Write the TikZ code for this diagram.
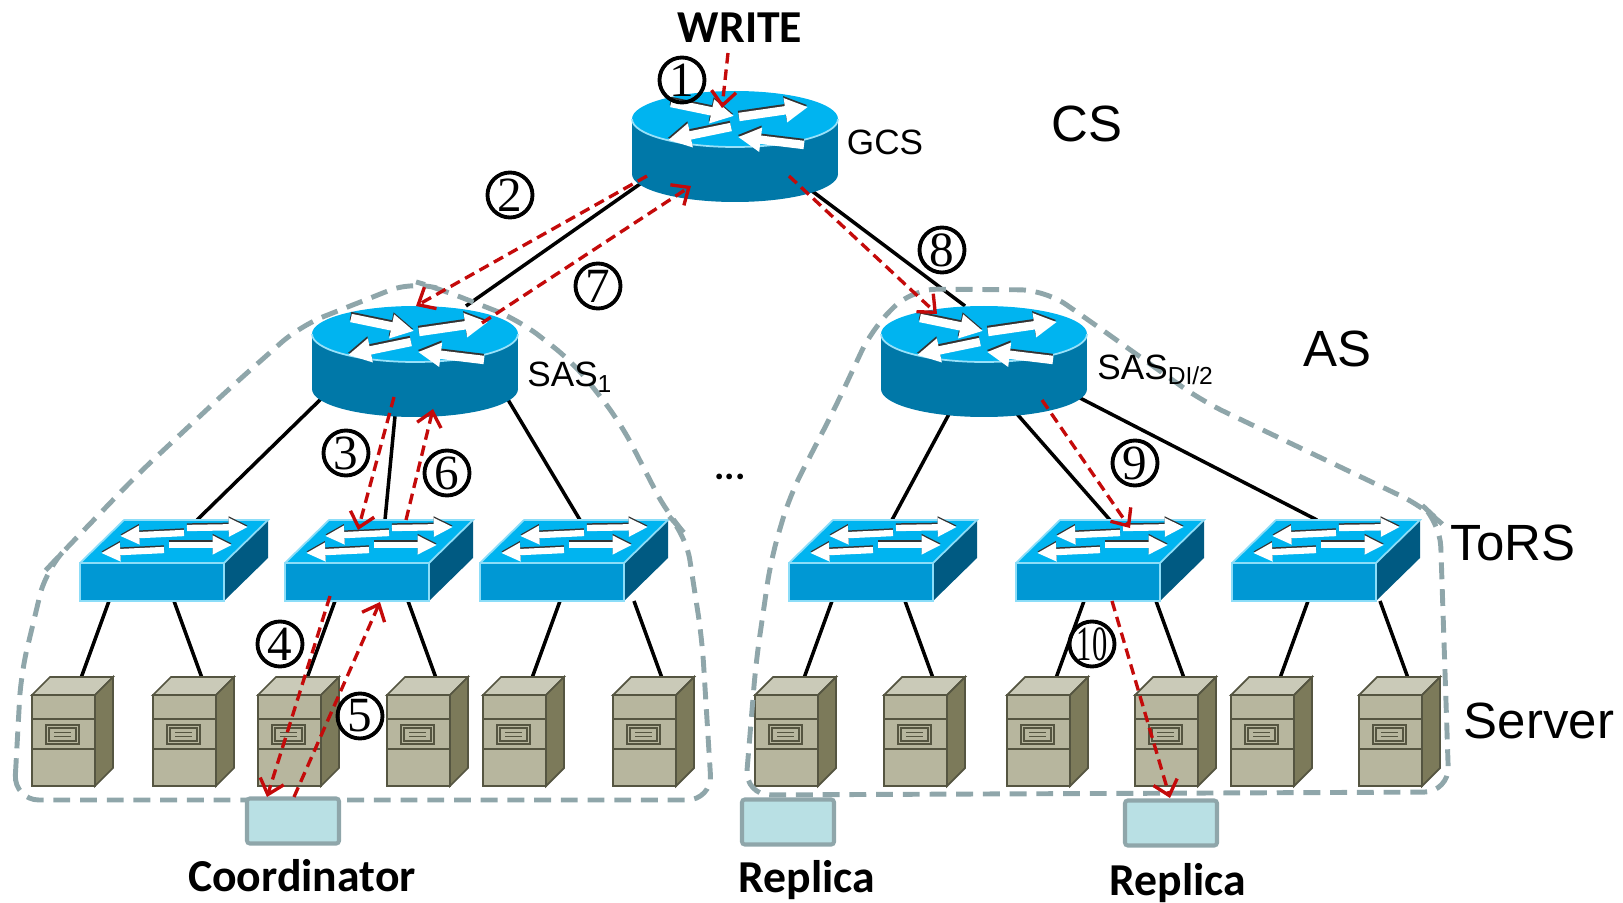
\documentclass[tikz,border=0pt]{standalone}
\usepackage{fontspec}
\usepackage{tikz}
\usetikzlibrary{arrows.meta, calc, positioning, backgrounds}

\newfontfamily\arialfont{Liberation Sans}
\newfontfamily\calfont{Carlito}
\newfontfamily\numfont{Liberation Serif}

\definecolor{routertop}{RGB}{0,180,240}
\definecolor{routerside}{RGB}{0,120,168}
\definecolor{torsfront}{RGB}{0,152,212}
\definecolor{torsside}{RGB}{0,90,130}
\definecolor{srvfront}{RGB}{183,182,158}
\definecolor{srvtop}{RGB}{202,202,184}
\definecolor{srvside}{RGB}{124,122,90}
\definecolor{srvedge}{RGB}{85,85,65}
\definecolor{zonegray}{RGB}{143,166,170}
\definecolor{boxfill}{RGB}{185,224,228}
\definecolor{flowred}{RGB}{196,10,10}

% router cylinder: #1 name, #2 centre of the top face
\newcommand{\router}[2]{%
  \begin{scope}[shift={#2}]
    \fill[routerside] (0,55) ellipse[x radius=103, y radius=28];
    \fill[routerside] (-103,0) rectangle (103,55);
    \fill[routertop] (0,0) ellipse[x radius=103, y radius=28];
    \draw[white!60!routertop, line width=0.5pt] (-103,0) arc[start angle=180, end angle=0, x radius=103, y radius=28];
    \foreach \tx/\ty/\hx/\hy in {-64/-16/-1/-3, 4/-2/73/-12, -4/8/-67/21, 69/26/3/18}{
      \draw[rarrow, black!80] (\tx-0.5,\ty-2) -- (\hx-0.5,\hy-2);
      \draw[rarrow, white] (\tx,\ty) -- (\hx,\hy);
    }
  \end{scope}
  \node[hull, minimum width=20.6mm, minimum height=11.1mm] (#1) at ($#2+(0,27.5)$) {};
}

% top-of-rack switch: #1 name, #2 top left corner of the front face
\newcommand{\torswitch}[2]{%
  \begin{scope}[shift={#2}]
    \fill[torsfront] (0,0) rectangle (144,38);
    \fill[routertop] (0,0) -- (44,-43) -- (188,-43) -- (144,0) -- cycle;
    \fill[torsside] (144,0) -- (188,-43) -- (188,-5) -- (144,38) -- cycle;
    \draw[white!55!routertop, line width=0.5pt] (0,38) -- (0,0) -- (144,0) -- (144,38) -- cycle
      (0,0) -- (44,-43) -- (188,-43) -- (144,0);
    \foreach \tx/\ty/\hx/\hy in {104/-30/40/-27, 107/-35/168/-36, 84/-13/21/-10, 89/-18/152/-18}{
      \draw[sarrow, black!80] (\tx,\ty-1.5) -- (\hx,\hy-1.5);
      \draw[sarrow, white] (\tx,\ty) -- (\hx,\hy);
    }
  \end{scope}
  \node[hull, minimum width=14.4mm, minimum height=3.8mm] (#1) at ($#2+(72,19)$) {};
}

% server tower: #1 name, #2 top left corner of the front face
\newcommand{\serverrack}[2]{%
  \begin{scope}[shift={#2}, draw=srvedge, line width=0.5pt]
    \filldraw[fill=srvfront] (0,0) rectangle (63,91);
    \filldraw[fill=srvtop] (0,0) -- (18,-18) -- (81,-18) -- (63,0) -- cycle;
    \filldraw[fill=srvside] (63,0) -- (81,-18) -- (81,73) -- (63,91) -- cycle;
    \draw (0,24) -- (63,24) (0,54) -- (63,54);
    \draw (14,30) rectangle (47,49) (17,33) rectangle (44,46);
    \draw (22,37.5) -- (39,37.5) (22,41.5) -- (39,41.5);
  \end{scope}
  \node[hull, minimum width=6.3mm, minimum height=9.1mm] (#1) at ($#2+(31.5,45.5)$) {};
  \coordinate (#1-top) at ($#2+(49,-17)$);
}

\begin{document}
\begin{tikzpicture}[
    x=0.1mm, y=-0.1mm,
    hull/.style={inner sep=0pt, outer sep=0pt},
    rarrow/.style={line width=2.4pt, -{Triangle[length=6.5pt, width=6.5pt]}},
    sarrow/.style={line width=1.8pt, -{Triangle[length=5.5pt, width=5pt]}},
    link/.style={line width=1pt, black},
    flow/.style={draw=flowred, line width=0.95pt, dash pattern=on 3pt off 1.7pt, -{Straight Barb[length=4pt, width=7pt]}},
    zone/.style={draw=zonegray, line width=1.4pt, dash pattern=on 4.8pt off 2.8pt, rounded corners=2.5mm},
    store/.style={draw=zonegray, fill=boxfill, line width=1.15pt, minimum width=9.2mm, minimum height=4.5mm, inner sep=0pt, rounded corners=0.8pt},
    num/.style={circle, draw, line width=1.1pt, minimum size=4.5mm, inner sep=0pt, font=\numfont\fontsize{14}{14}\selectfont},
    tag/.style={font=\arialfont\fontsize{10}{12}\selectfont},
    layer/.style={font=\arialfont\fontsize{14.5}{16}\selectfont},
    caption/.style={font=\calfont\bfseries\fontsize{13}{15}\selectfont}
]
\useasboundingbox (0,0) rectangle (1623,903);

% core and aggregation routers
\router{gcs}{(735,119)}
\router{sas1}{(415,334)}
\router{sasr}{(984,334)}

% ToR switches and servers
\foreach \n/\x in {tor1/80, tor2/285, tor3/480, tor4/789, tor5/1016, tor6/1232}{
  \torswitch{\n}{(\x,563)}
}
\foreach \n/\x in {sv1/32, sv2/153, sv3/258, sv4/387, sv5/483, sv6/613,
                   sv7/755, sv8/884, sv9/1007, sv10/1135, sv11/1231, sv12/1359}{
  \serverrack{\n}{(\x,695)}
}

% cabling behind the devices
\begin{scope}[on background layer]
  \draw[link] ($(gcs)+(-95,37.5)$) -- ($(sas1)+(51,-55.5)$);
  \draw[link] ($(gcs)+(77,44.5)$) -- ($(sasr)+(-19,-55.5)$);
  \draw[link] ($(sas1)+(-91,34.5)$) -- ($(tor1)+(45,-62)$);
  \draw[link] ($(sas1)+(-20,54.5)$) -- ($(tor2)+(28,-62)$);
  \draw[link] ($(sas1)+(92,36.5)$) -- ($(tor3)+(28,-62)$);
  \draw[link] ($(sasr)+(-35,52.5)$) -- ($(tor4)+(31,-62)$);
  \draw[link] ($(sasr)+(33,52.5)$) -- ($(tor5)+(22,-62)$);
  \draw[link] ($(sasr)+(96,36.5)$) -- ($(tor6)+(13,-62)$);
  \foreach \t/\a/\b in {tor1/sv1/sv2, tor2/sv3/sv4, tor3/sv5/sv6,
                        tor4/sv7/sv8, tor5/sv9/sv10, tor6/sv11/sv12}{
    \draw[link] ($(\t.south -| \a-top)+(28,0)$) -- (\a-top);
    \draw[link] ($(\t.south -| \b-top)+(-28,0)$) -- (\b-top);
  }
\end{scope}

% aggregation domains
\draw[zone] (14,800) -- (21,674) -- (46,570) -- (60,555) -- (138,474) -- (230,388) -- (300,326)
  -- (413,281) -- (440,289) -- (519,320) -- (574,363) -- (620,422) -- (668,515) -- (686,535)
  -- (702,639) -- (712,800) -- cycle;
\draw[zone] (745,795) -- (756,662) -- (771,559) -- (790,495) -- (835,408) -- (872,329) -- (912,289)
  -- (1045,290) -- (1087,319) -- (1202,401) -- (1424,507) -- (1440,522) -- (1449,792) -- cycle;

% storage boxes
\node[store] (coord) at (293,821) {};
\node[store] (rep1) at (788,822) {};
\node[store] (rep2) at (1171,823) {};

% write path
\node[caption] (write) at (740,28) {WRITE};
\draw[flow] ($(write)+(-12,25)$) -- ($(gcs)+(-13,-38.5)$);
\draw[flow] ($(gcs)+(-88,29.5)$) -- ($(sas1)+(1,-55.5)$);
\draw[flow] ($(sas1)+(-21,35.5)$) -- ($(tor2)+(1,-52)$);
\draw[flow] ($(tor2)+(-27,14)$) -- ($(coord)+(-26,-24)$);
\draw[flow] ($(coord)+(1,-24)$) -- ($(tor2)+(23,20)$);
\draw[flow] ($(tor2)+(49,-62)$) -- ($(sas1)+(18,47.5)$);
\draw[flow] ($(sas1)+(67,-38.5)$) -- ($(gcs)+(-44,39.5)$);
\draw[flow] ($(gcs)+(54,29.5)$) -- ($(sasr)+(-47,-47.5)$);
\draw[flow] ($(sasr)+(58,38.5)$) -- ($(tor5)+(42,-54)$);
\draw[flow] ($(tor5)+(24,19)$) -- ($(rep2)+(-1,-25)$);

% step numbers
\node[num] (n1) at (682,80) {1};
\node[num] (n2) at (510,195) {2};
\node[num] (n3) at (346,453) {3};
\node[num] (n4) at (280,644) {4};
\node[num] (n5) at (360,716) {5};
\node[num] (n6) at (447,473) {6};
\node[num] (n7) at (598,286) {7};
\node[num] (n8) at (942,250) {8};
\node[num] (n9) at (1135,463) {9};
\node[num] (n10) at (1092,644) {\scalebox{0.62}[1]{10}};

% device and layer labels
\node[tag] (gcstag) at (885,142) {GCS};
\node[tag, anchor=base west] (sas1tag) at (515,387) {SAS\textsubscript{1}};
\node[tag, anchor=base west] (sasrtag) at (1085,379) {SAS\textsubscript{DI/2}};
\node[layer] (cs) at (1087,124) {CS};
\node[layer] (as) at (1337,349) {AS};
\node[layer] (torstag) at (1513,543) {ToRS};
\node[layer] (srvtag) at (1539,721) {Server};
\node[caption, font=\calfont\bfseries\fontsize{11}{13}\selectfont, anchor=base] (dots) at (730,480) {...};
\node[caption] (coordtag) at (302,876) {Coordinator};
\node[caption] (rep1tag) at (807,880) {Replica};
\node[caption] (rep2tag) at (1178,883) {Replica};
\end{tikzpicture}
\end{document}
